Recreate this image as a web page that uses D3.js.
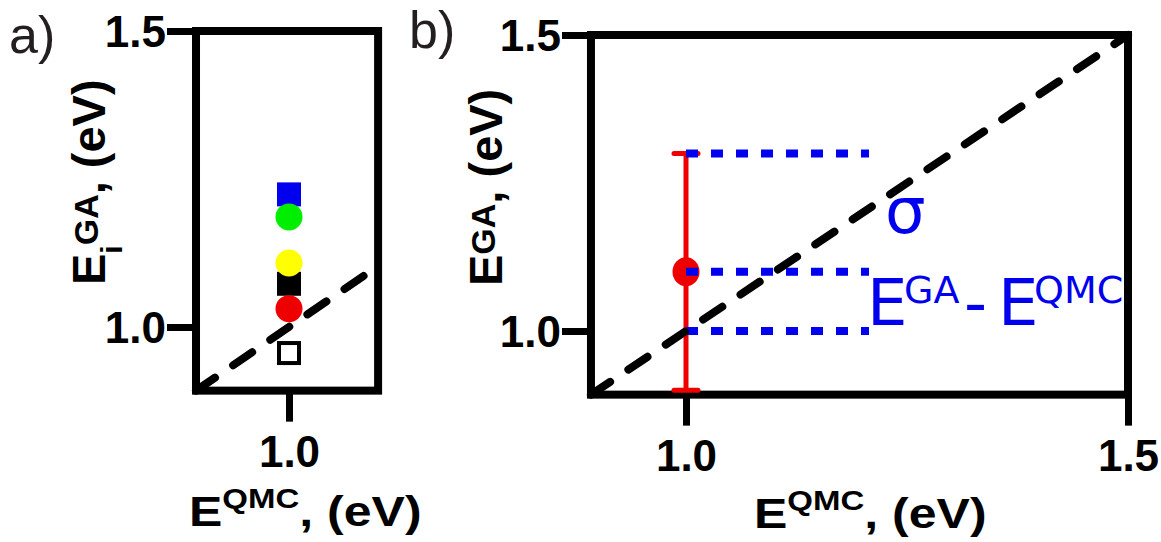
<!DOCTYPE html>
<html>
<head>
<meta charset="utf-8">
<script src="https://cdn.jsdelivr.net/npm/d3@7"></script>
<style>
  body { margin: 0; background: #fff; }
  svg { display: block; }
  .bold { font-family: "Liberation Sans", Arial, sans-serif; font-weight: bold; }
</style>
</head>
<body>
<svg width="1161" height="542"></svg>
<script>
// panel a: every GA variant against the one QMC value
let qmcValue = 1.0;
let gaValues = [1.224, 1.186, 1.108, 1.073, 1.031, 0.956];
let gaShapes = ["square", "circle", "circle", "square", "circle", "open"];
let gaColors = ["#0000ee", "#00ee00", "#ffff00", "#000000", "#ee0000", "#000000"];

// panel b: mean with its spread, and the guide levels
let meanGA = 1.1;
let spread = [0.9, 1.3];
let guideLevels = [1.3, 1.1, 1.0];
let guideEnd = 1.207;

// ticks and ranges
let ticksA_x = [1.0];
let ticksA_y = [1.0, 1.5];
let ticksB = [1.0, 1.5];
let axisMin = 0.8925;
let axisMaxA_x = 1.103;
let axisMax = 1.5;

let svg = d3.select("svg");

// scales (set from where the ticks sit)
let xA = d3.scaleLinear().domain([1.0, 1.1]).range([289, 375.5]);
let yA = d3.scaleLinear().domain([1.0, 1.5]).range([327, 31]);
let xB = d3.scaleLinear().domain([1.0, 1.5]).range([686, 1128]);
let yB = d3.scaleLinear().domain([1.0, 1.5]).range([331, 35]);

let fmt = d3.format(".1f");

let drawPanel = function(x, y, xMax, xTicks, yTicks) {
  let g = svg.append("g");

  // ticks
  let yAxis = d3.axisLeft(y).tickValues(yTicks).tickFormat(fmt)
    .tickSize(29).tickSizeOuter(0).tickPadding(1);
  let yG = g.append("g").attr("transform", "translate(" + x(axisMin) + ",0)").call(yAxis);

  let xAxis = d3.axisBottom(x).tickValues(xTicks).tickFormat(fmt)
    .tickSize(31).tickSizeOuter(0).tickPadding(14);
  let xG = g.append("g").attr("transform", "translate(0," + y(axisMin) + ")").call(xAxis);

  [yG, xG].forEach(a => {
    a.select(".domain").remove();
    a.selectAll(".tick line").attr("stroke", "#000").attr("stroke-width", 7);
    a.selectAll(".tick text").attr("class", "bold").attr("fill", "#000")
      .attr("font-size", 44);
  });
  yG.selectAll(".tick text").attr("dy", "0.36em");

  // frame
  g.append("rect")
    .attr("x", x(axisMin)).attr("y", y(axisMax))
    .attr("width", x(xMax) - x(axisMin))
    .attr("height", y(axisMin) - y(axisMax))
    .attr("fill", "none").attr("stroke", "#000").attr("stroke-width", 8);

  return g;
};

// ---- panel a ----
let gA = drawPanel(xA, yA, axisMaxA_x, ticksA_x, ticksA_y);

gA.append("line")
  .attr("x1", xA(axisMin)).attr("y1", yA(axisMin))
  .attr("x2", xA(axisMaxA_x)).attr("y2", yA(axisMaxA_x))
  .attr("stroke", "#000").attr("stroke-width", 8)
  .attr("stroke-linecap", "round").attr("stroke-dasharray", "23 22");

let pts = gaValues.map((v, i) => ({ v: v, shape: gaShapes[i], color: gaColors[i] }));
let sq = 24;
gA.selectAll("rect.pt")
  .data(pts.filter(d => d.shape == "square"))
  .enter().append("rect").attr("class", "pt")
  .attr("x", xA(qmcValue) - sq / 2).attr("y", d => yA(d.v) - sq / 2)
  .attr("width", sq).attr("height", sq).attr("fill", d => d.color);
gA.selectAll("rect.open")
  .data(pts.filter(d => d.shape == "open"))
  .enter().append("rect").attr("class", "open")
  .attr("x", xA(qmcValue) - sq / 2 + 2).attr("y", d => yA(d.v) - sq / 2 + 2)
  .attr("width", sq - 4).attr("height", sq - 4)
  .attr("fill", "#fff").attr("stroke", d => d.color).attr("stroke-width", 4);
gA.selectAll("circle.pt")
  .data(pts.filter(d => d.shape == "circle"))
  .enter().append("circle").attr("class", "pt")
  .attr("cx", xA(qmcValue)).attr("cy", d => yA(d.v))
  .attr("r", 13.5).attr("fill", d => d.color);

// ---- panel b ----
let gB = drawPanel(xB, yB, axisMax, ticksB, ticksB);

let red = "#ee0000";
gB.append("line")
  .attr("x1", xB(qmcValue)).attr("x2", xB(qmcValue))
  .attr("y1", yB(spread[0])).attr("y2", yB(spread[1]))
  .attr("stroke", red).attr("stroke-width", 5);
gB.selectAll("line.cap").data(spread).enter().append("line").attr("class", "cap")
  .attr("x1", xB(qmcValue) - 12).attr("x2", xB(qmcValue) + 12)
  .attr("y1", d => yB(d)).attr("y2", d => yB(d))
  .attr("stroke", red).attr("stroke-width", 5).attr("stroke-linecap", "round");
gB.append("ellipse")
  .attr("cx", xB(qmcValue)).attr("cy", yB(meanGA))
  .attr("rx", 13.5).attr("ry", 14.5).attr("fill", red);

gB.selectAll("line.guide").data(guideLevels).enter().append("line").attr("class", "guide")
  .attr("x1", xB(qmcValue)).attr("x2", xB(guideEnd))
  .attr("y1", d => yB(d)).attr("y2", d => yB(d))
  .attr("stroke", "#0000ee").attr("stroke-width", 8).attr("stroke-dasharray", "12 13");

gB.append("line")
  .attr("x1", xB(axisMin)).attr("y1", yB(axisMin))
  .attr("x2", xB(axisMax)).attr("y2", yB(axisMax))
  .attr("stroke", "#000").attr("stroke-width", 8)
  .attr("stroke-linecap", "round").attr("stroke-dasharray", "23 22");

// blue annotations
let ann = svg.append("g").attr("fill", "#0000ee")
  .style("font-family", "'DejaVu Sans', sans-serif");
ann.append("text").attr("x", 885).attr("y", 233).attr("font-size", 64).text("σ");
let diff = ann.append("text").attr("y", 325).attr("font-size", 64);
diff.append("tspan").attr("x", 867).text("E");
diff.append("tspan").attr("x", 904).attr("y", 303).attr("font-size", 38).text("GA");
diff.append("tspan").attr("x", 964).attr("y", 325).text("-");
diff.append("tspan").attr("x", 998).text("E");
diff.append("tspan").attr("x", 1034).attr("y", 303).attr("font-size", 38).text("QMC");

// axis titles
let xTitle = function(x0, y0) {
  let t = svg.append("text").attr("class", "bold")
    .attr("transform", "translate(" + x0 + "," + y0 + ") scale(1,0.86)")
    .attr("font-size", 50);
  t.append("tspan").text("E");
  t.append("tspan").attr("font-size", 33).attr("dy", -21).text("QMC");
  t.append("tspan").attr("dy", 21).text(", (eV)");
};
xTitle(189, 526);
xTitle(754, 528);

let yTitle = function(x0, y0, sub) {
  let t = svg.append("text").attr("class", "bold")
    .attr("transform", "translate(" + x0 + "," + y0 + ") rotate(-90)")
    .attr("font-size", 47);
  t.append("tspan").text("E");
  let up = 7;
  if (sub) {
    t.append("tspan").attr("font-size", 30).attr("dy", 17).text(sub);
    up += 17;
  }
  t.append("tspan").attr("font-size", 34).attr("dy", -up).text("GA");
  t.append("tspan").attr("dy", 7).text(", (eV)");
};
yTitle(105, 285, "i");
yTitle(502, 286, null);

// panel letters
let letter = svg.append("g").attr("fill", "#231f20")
  .style("font-family", "'Liberation Sans', Arial, sans-serif").attr("font-size", 52);
letter.append("text").attr("x", 9).attr("y", 53).text("a)");
letter.append("text").attr("x", 409).attr("y", 48).text("b)");
</script>
</body>
</html>
